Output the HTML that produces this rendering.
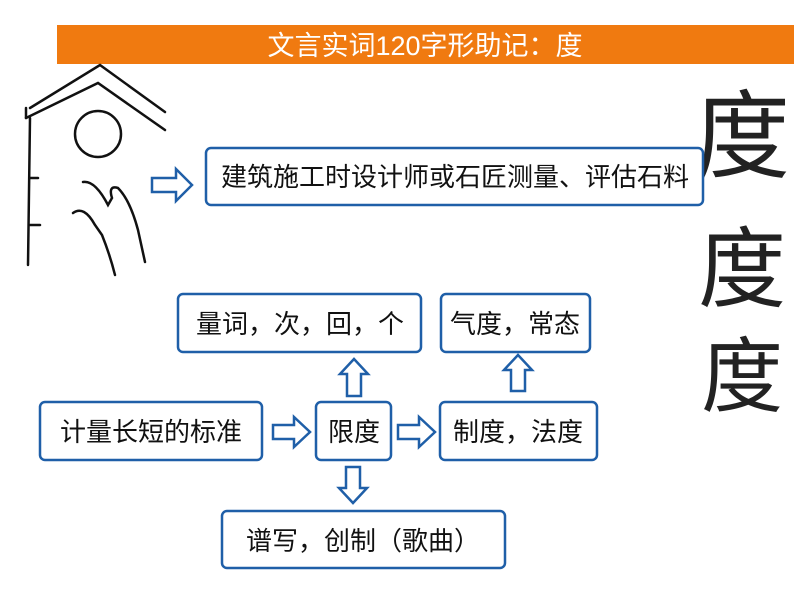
<!DOCTYPE html>
<html><head><meta charset="utf-8"><style>
html,body{margin:0;padding:0;background:#fff;}
svg{display:block;}
text{font-family:"Liberation Sans","Noto Sans CJK SC",sans-serif;}
</style></head><body>
<svg width="794" height="596" viewBox="0 0 794 596" xmlns="http://www.w3.org/2000/svg">
<rect x="57" y="25" width="737" height="39" fill="#F07A10"/>
<text x="425" y="55" font-size="27" fill="#fff" text-anchor="middle">文言实词120字形助记：度</text>
<g fill="none" stroke="#111" stroke-width="2.5" stroke-linecap="round">
<path d="M26 118 L98 83 L165 130"/>
<path d="M30 108 L100 65 L165 112"/>
<path d="M26 108 L26 118"/>
<path d="M30 118 L28 265"/>
<path d="M30 178 L38 178"/>
<path d="M30 225 L40 225"/>
<circle cx="98" cy="134" r="23"/>
<path d="M83 182 Q95 180 108 205 L112 198 Q108 185 118 188 Q130 200 138 230 L145 262"/>
<path d="M73 213 Q84 205 95 225 L102 235 Q110 255 115 275"/>
</g>
<g fill="#222" text-anchor="middle" style="font-family:'Noto Serif CJK SC',serif">
<text x="742" y="170" font-size="96">度</text>
<text x="742" y="300" font-size="88">度</text>
<text x="742" y="405" font-size="82">度</text>
</g>
<g fill="#fff" stroke="#1F5FA8" stroke-width="2.5">
<rect x="206" y="148" width="497" height="57" rx="5"/>
<rect x="178" y="294" width="243" height="58" rx="5"/>
<rect x="441" y="294" width="149" height="58" rx="5"/>
<rect x="40" y="402" width="222" height="58" rx="5"/>
<rect x="316" y="402" width="75" height="58" rx="5"/>
<rect x="440" y="402" width="157" height="58" rx="5"/>
<rect x="222" y="511" width="283" height="57" rx="5"/>
</g>
<g font-size="26" fill="#111" text-anchor="middle">
<text x="455" y="186">建筑施工时设计师或石匠测量、评估石料</text>
<text x="300" y="333">量词，次，回，个</text>
<text x="515" y="333">气度，常态</text>
<text x="151" y="441">计量长短的标准</text>
<text x="354" y="441">限度</text>
<text x="518" y="441">制度，法度</text>
<text x="363" y="550">谱写，创制（歌曲）</text>
</g>
<g fill="#fff" stroke="#1F5FA8" stroke-width="2.5">
<path d="M152 178 L176 178 L176 169 L192 185 L176 201 L176 192 L152 192 Z"/>
<path d="M273 425 L294 425 L294 417 L310 432 L294 447 L294 439 L273 439 Z"/>
<path d="M398 425 L419 425 L419 417 L435 432 L419 447 L419 439 L398 439 Z"/>
<path d="M347 396 L347 374 L340 374 L354 359 L368 374 L361 374 L361 396 Z"/>
<path d="M511 391 L511 370 L504 370 L518 355 L532 370 L525 370 L525 391 Z"/>
<path d="M346 467 L360 467 L360 488 L367 488 L353 503 L339 488 L346 488 Z"/>
</g>
</svg>
</body></html>
